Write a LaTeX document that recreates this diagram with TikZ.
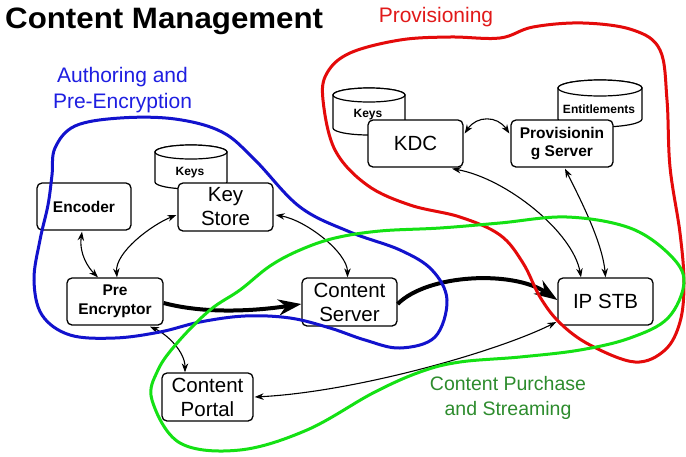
\documentclass[tikz,border=0pt]{standalone}
\usepackage{fontspec}
\setmainfont{Liberation Sans}
\usepackage{graphicx}
\usetikzlibrary{arrows.meta,calc}

\definecolor{zoneblue}{RGB}{18,18,205}
\definecolor{zonered}{RGB}{228,10,10}
\definecolor{zonegreen}{RGB}{20,225,20}
\definecolor{labelblue}{RGB}{30,30,225}
\definecolor{labelred}{RGB}{225,25,25}
\definecolor{labelgreen}{RGB}{45,140,45}

\tikzset{
  boxr/.style={draw, line width=1.3pt, rounded corners=5pt, fill=white,
    align=center, inner sep=2pt, minimum width=95pt, minimum height=47pt,
    font=\fontsize{20.5}{24}\selectfont},
  boxb/.style={boxr, font=\fontsize{15.5}{18.5}\selectfont\bfseries},
  store/.style={draw, line width=1.2pt, fill=white},
  storetext/.style={font=\fontsize{12}{14}\selectfont\bfseries, anchor=base, inner sep=0pt},
  link/.style={line width=1.1pt,
    arrows={Stealth[length=9pt,width=6.5pt]-Stealth[length=9pt,width=6.5pt]}},
  flow/.style={line width=4pt, arrows={-Stealth[length=23pt,width=16pt]}},
  zone/.style={line width=3pt},
  zonelabel/.style={font=\fontsize{21}{25}\selectfont, anchor=base, inner sep=0pt}
}

\begin{document}
\begin{tikzpicture}[x=1pt,y=-1pt]
\useasboundingbox[fill=white] (0,0) rectangle (686,456);

% title
\node[anchor=base west, inner sep=0pt, font=\fontsize{29.5}{34}\selectfont\bfseries]
  (title) at (5,28) {\scalebox{1.06}[1]{Content Management}};

% data stores (cylinders)
\filldraw[store] (155,152) -- (155,182) arc[start angle=180, end angle=360, x radius=36pt, y radius=7pt]
  -- (227,152) arc[start angle=0, end angle=180, x radius=36pt, y radius=7pt] -- cycle;
\draw[store] (191,152) ellipse[x radius=36pt, y radius=7pt];
\filldraw[store] (333,95) -- (333,128) arc[start angle=180, end angle=360, x radius=36pt, y radius=7pt]
  -- (405,95) arc[start angle=0, end angle=180, x radius=36pt, y radius=7pt] -- cycle;
\draw[store] (369,95) ellipse[x radius=36pt, y radius=7pt];
\filldraw[store] (558,88) -- (558,119) arc[start angle=180, end angle=360, x radius=42pt, y radius=8pt]
  -- (642,88) arc[start angle=0, end angle=180, x radius=42pt, y radius=8pt] -- cycle;
\draw[store] (600,88) ellipse[x radius=42pt, y radius=8pt];

% components
\node[boxb, minimum width=94pt] (enc) at (84,206.5) {Encoder};
\node[boxr, minimum height=48pt] (ks) at (225.5,207) {Key\\Store};
\node[boxb, minimum width=96pt] (pre) at (115,301.5) {Pre\\Encryptor};
\node[boxr, minimum height=48pt] (cs) at (349.5,302) {Content\\Server};
\node[boxr] (stb) at (605.5,301.5) {IP STB};
\node[boxr] (kdc) at (415.5,143.5) {KDC};
\node[boxb, minimum width=102pt] (ps) at (562,143.5) {Provisionin\\g Server};
\node[boxr, minimum width=91pt, minimum height=48pt] (cp) at (207.5,397) {Content\\Portal};

% store labels
\node[storetext] (keysa) at (190,175) {Keys};
\node[storetext] (keysb) at (368,117) {Keys};
\node[storetext] (ent) at (599,113) {Entitlements};

% connectors
\draw[link] ($(enc.south)+(-2,1)$) .. controls +(-3,22) and +(-10,-10) .. ($(pre.north)+(-17,0)$);
\draw[link] ($(ks.west)+(-1,8)$) .. controls +(-25,10) and +(-2,-25) .. ($(pre.north)+(2,0)$);
\draw[link] ($(ks.east)+(2,8)$) .. controls +(30,5) and +(0,-25) .. ($(cs.north)+(-2,0)$);
\draw[link] ($(kdc.east)+(1,-10)$) .. controls +(12,-18) and +(-12,-18) .. ($(ps.west)+(-1,-10)$);
\draw[link] ($(kdc.south)+(36.5,1)$) .. controls +(55,10) and +(-8,-45) .. ($(stb.north)+(-24.5,0)$);
\draw[link] ($(ps.south)+(3,1)$) .. controls +(15,30) and +(-3,-35) .. ($(stb.north)+(0,0)$);
\draw[link] ($(pre.south)+(35,1)$) .. controls +(18,8) and +(0,-20) .. ($(cp.north)+(-22.5,0)$);
\draw[link] ($(cp.east)+(1,0)$) .. controls +(100,-5) and +(-60,30) .. ($(stb.west)+(-1,20.5)$);
\draw[flow] ($(pre.east)+(0,1.5)$) .. controls +(45,12) and +(-40,6) .. ($(cs.west)+(0,2)$);
\draw[flow] ($(cs.east)+(0,2)$) .. controls +(30,-30) and +(-45,-30) .. ($(stb.west)+(0,-1.5)$);

% zones
\draw[zone, draw=zoneblue] plot[smooth cycle, tension=0.6] coordinates {
  (55,148) (75,126) (120,118) (175,119) (222,132) (255,160) (300,207) (350,232)
  (400,250) (432,270) (447,300) (435,337) (400,348) (365,340) (330,328) (290,318)
  (245,316) (200,322) (160,332) (115,338) (70,335) (42,315) (34,280) (40,240)
  (48,205) (52,175)};
\draw[zone, draw=zonered] plot[smooth cycle, tension=0.6] coordinates {
  (500,38) (533,27) (583,23) (633,30) (660,50) (667,100) (670,167) (680,233)
  (684,283) (680,322) (665,350) (635,362) (590,345) (560,323) (540,297) (523,263)
  (500,235) (460,217) (410,205) (367,185) (335,150) (323,100) (327,73) (350,53)
  (400,40) (450,37)};
\draw[zone, draw=zonegreen] plot[smooth cycle, tension=0.6] coordinates {
  (152,400) (158,370) (178,342) (210,310) (240,290) (270,266) (300,250) (335,238)
  (380,231) (440,228) (500,223) (567,217) (630,228) (670,255) (684,282) (668,318)
  (630,338) (580,350) (520,357) (460,362) (420,372) (373,393) (307,430) (240,450)
  (180,443)};

% zone labels
\node[zonelabel, text=labelred] (lprov) at (436,22) {Provisioning};
\node[zonelabel, text=labelblue] (lauth1) at (122.5,82) {Authoring and};
\node[zonelabel, text=labelblue] (lauth2) at (122.5,108) {Pre-Encryption};
\node[zonelabel, text=labelgreen, font=\fontsize{19.5}{23}\selectfont] (lcps1) at (508,390) {Content Purchase};
\node[zonelabel, text=labelgreen, font=\fontsize{19.5}{23}\selectfont] (lcps2) at (508,415) {and Streaming};
\end{tikzpicture}
\end{document}
